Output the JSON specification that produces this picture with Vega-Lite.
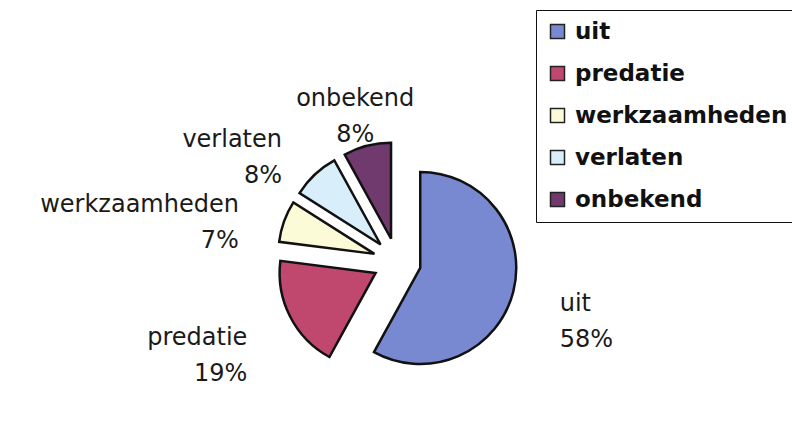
{
  "$schema": "https://vega.github.io/schema/vega-lite/v6.json",
  "width": 794,
  "height": 322,
  "autosize": {"type": "none"},
  "padding": {"left": 0, "top": 101, "right": 0, "bottom": 0},
  "background": "white",
  "data": {
    "values": [
      {"category": "uit", "pct": 58, "idx": 1},
      {"category": "predatie", "pct": 19, "idx": 2},
      {"category": "werkzaamheden", "pct": 7, "idx": 3},
      {"category": "verlaten", "pct": 8, "idx": 4},
      {"category": "onbekend", "pct": 8, "idx": 5}
    ]
  },
  "transform": [
    {"calculate": "datum.category + '\\n' + datum.pct + '%'", "as": "label"}
  ],
  "encoding": {
    "theta": {"field": "pct", "type": "quantitative", "stack": true},
    "order": {"field": "idx", "type": "ordinal"}
  },
  "layer": [
    {
      "mark": {
        "type": "arc",
        "outerRadius": 96,
        "stroke": "#111111",
        "strokeWidth": 2.5,
        "strokeJoin": "miter",
        "x": {"expr": "width/2 + 24*sin((scale('theta', datum.pct_start) + scale('theta', datum.pct_end))/2)"},
        "y": {"expr": "height/2 - 24*cos((scale('theta', datum.pct_start) + scale('theta', datum.pct_end))/2)"}
      },
      "encoding": {
        "color": {
          "field": "category",
          "type": "nominal",
          "sort": ["uit", "predatie", "werkzaamheden", "verlaten", "onbekend"],
          "scale": {
            "domain": ["uit", "predatie", "werkzaamheden", "verlaten", "onbekend"],
            "range": ["#7889d2", "#c0486e", "#fcfbd8", "#d8eefb", "#703a6e"]
          },
          "legend": {
            "orient": "none",
            "legendX": 536,
            "legendY": -91,
            "title": null,
            "strokeColor": "#111111",
            "padding": 10,
            "symbolType": "square",
            "symbolSize": 196,
            "symbolStrokeColor": "#222222",
            "symbolStrokeWidth": 1.5,
            "labelFont": "DejaVu Sans",
            "labelFontSize": 23,
            "labelFontWeight": "bold",
            "labelColor": "#111111",
            "rowPadding": 18,
            "labelOffset": 6,
            "labelLimit": 400
          }
        }
      }
    },
    {
      "mark": {
        "type": "text",
        "radius": 168,
        "font": "DejaVu Sans",
        "fontSize": 24,
        "fill": "#1a1a1a",
        "lineBreak": "\n",
        "lineHeight": 36,
        "baseline": "middle",
        "align": {"expr": "sin((scale('theta', datum.pct_start) + scale('theta', datum.pct_end))/2) > 0.5 ? 'left' : (sin((scale('theta', datum.pct_start) + scale('theta', datum.pct_end))/2) < -0.5 ? 'right' : 'center')"}
      },
      "encoding": {
        "text": {"field": "label", "type": "nominal"}
      }
    }
  ],
  "config": {
    "view": {"stroke": null}
  }
}
